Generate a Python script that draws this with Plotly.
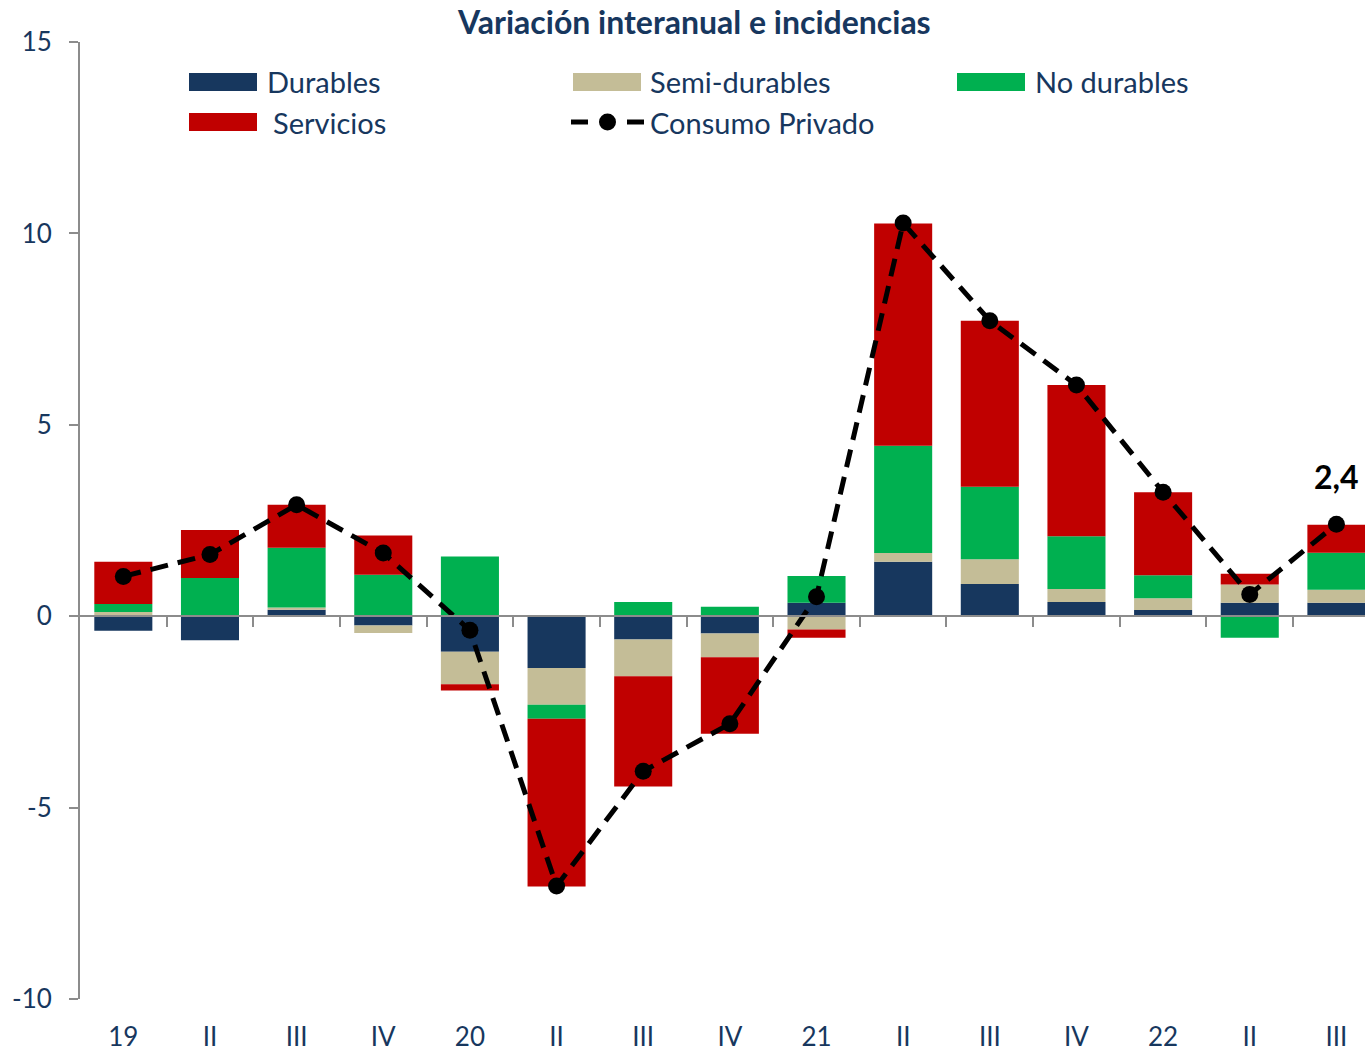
import plotly.graph_objects as go

# ---- data ----
categories = ["19", "II", "III", "IV", "20", "II", "III", "IV", "21", "II", "III", "IV", "22", "II", "III"]
durables = [-0.38, -0.63, 0.17, -0.24, -0.93, -1.35, -0.61, -0.45, 0.35, 1.42, 0.84, 0.37, 0.16, 0.35, 0.35]
semi_durables = [0.11, 0.02, 0.06, -0.20, -0.85, -0.96, -0.96, -0.62, -0.35, 0.23, 0.65, 0.34, 0.31, 0.48, 0.34]
no_durables = [0.21, 0.98, 1.56, 1.08, 1.56, -0.37, 0.37, 0.25, 0.70, 2.80, 1.89, 1.38, 0.60, -0.56, 0.97]
servicios = [1.10, 1.25, 1.12, 1.03, -0.16, -4.38, -2.88, -2.00, -0.21, 5.81, 4.34, 3.95, 2.17, 0.28, 0.73]
consumo_privado = [1.04, 1.61, 2.91, 1.65, -0.37, -7.05, -4.05, -2.81, 0.51, 10.27, 7.72, 6.04, 3.24, 0.57, 2.4]
y_ticks = [-10, -5, 0, 5, 10, 15]
y_tick_text = ["-10", "-5", "0", "5", "10", "15"]
last_label = "2,4"

NAVY = "#17375E"
TAN = "#C4BD97"
GREEN = "#00B050"
RED = "#C00000"
GREY = "#8C8C8C"
FONT = "Lato, 'Open Sans', sans-serif"

xs = list(range(len(categories)))

fig = go.Figure()
for name, vals, col in [("Durables", durables, NAVY),
                        ("Semi-durables", semi_durables, TAN),
                        ("No durables", no_durables, GREEN),
                        ("Servicios", servicios, RED)]:
    fig.add_trace(go.Bar(x=xs, y=vals, name=name, marker_color=col,
                         marker_line_width=0, width=0.67, showlegend=False))

fig.add_trace(go.Scatter(x=xs, y=consumo_privado, mode="lines+markers", name="Consumo Privado",
                         line=dict(color="black", width=5, dash="18px,10px"),
                         marker=dict(size=17, color="black"), showlegend=False))

# invisible trace to carry the zero-line axis with boundary ticks
fig.add_trace(go.Scatter(x=xs, y=[None] * len(xs), xaxis="x2", showlegend=False,
                         hoverinfo="skip", mode="lines"))

# annotation for last value
fig.add_annotation(x=xs[-1], y=consumo_privado[-1], text="<b>" + last_label + "</b>",
                   showarrow=False, yanchor="bottom", yshift=26,
                   font=dict(family=FONT, size=32, color="black"))

# ---- layout helpers (pixel -> paper) ----
L, R, T, B = 80, 2, 42, 56
W, H = 1367, 1055
PW, PH = W - L - R, H - T - B


def px(x):
    return (x - L) / PW


def py(y):
    return (H - B - y) / PH


# manual legend
legend_items = [
    ("Durables", NAVY, 189, 82, 265),
    ("Semi-durables", TAN, 573, 82, 648),
    ("No durables", GREEN, 957, 82, 1033),
    ("Servicios", RED, 189, 122, 271),
]
shapes = []
for name, col, x0, yc, tx in legend_items:
    shapes.append(dict(type="rect", xref="paper", yref="paper",
                       x0=px(x0), x1=px(x0 + 68), y0=py(yc + 9), y1=py(yc - 9),
                       fillcolor=col, line_width=0))
    fig.add_annotation(xref="paper", yref="paper", x=px(tx), y=py(yc), text=name,
                       showarrow=False, xanchor="left", yanchor="middle",
                       font=dict(family=FONT, size=29, color=NAVY))
# Consumo Privado legend sample
shapes.append(dict(type="line", xref="paper", yref="paper", x0=px(571), x1=px(588),
                   y0=py(122), y1=py(122), line=dict(color="black", width=5)))
shapes.append(dict(type="line", xref="paper", yref="paper", x0=px(627), x1=px(644),
                   y0=py(122), y1=py(122), line=dict(color="black", width=5)))
shapes.append(dict(type="circle", xref="paper", yref="paper", x0=px(599), x1=px(616),
                   y0=py(130.5), y1=py(113.5), fillcolor="black", line_width=0))
fig.add_annotation(xref="paper", yref="paper", x=px(648), y=py(122), text="Consumo Privado",
                   showarrow=False, xanchor="left", yanchor="middle",
                   font=dict(family=FONT, size=29, color=NAVY))

# title
fig.add_annotation(xref="paper", yref="paper", x=px(694), y=py(22),
                   text="<b>Variación interanual e incidencias</b>",
                   showarrow=False, xanchor="center", yanchor="middle",
                   font=dict(family=FONT, size=32, color=NAVY))

xrange = [-0.5, 14.33]
ymin, ymax = y_ticks[0], y_ticks[-1]

fig.update_layout(
    width=W, height=H,
    margin=dict(l=L, r=R, t=T, b=B, autoexpand=False),
    paper_bgcolor="white", plot_bgcolor="white",
    barmode="relative",
    shapes=shapes,
    font=dict(family=FONT, color=NAVY),
    xaxis=dict(range=xrange, tickmode="array", tickvals=xs, ticktext=categories,
               showgrid=False, zeroline=False, showline=False, ticks="",
               tickfont=dict(family=FONT, size=26, color=NAVY),
               ticklabelstandoff=20, automargin=False),
    xaxis2=dict(range=xrange, overlaying="x", anchor="free",
                position=(0 - ymin) / (ymax - ymin), side="bottom",
                tickmode="array", tickvals=[i + 0.5 for i in xs[:-1]],
                showticklabels=False, ticks="outside", ticklen=10, tickwidth=2,
                tickcolor=GREY, showline=True, linecolor=GREY, linewidth=2,
                showgrid=False, zeroline=False, automargin=False),
    yaxis=dict(range=[ymin, ymax], tickmode="array", tickvals=y_ticks,
               ticktext=y_tick_text,
               showgrid=False, zeroline=False, showline=True, linecolor=GREY,
               linewidth=2, ticks="outside", ticklen=9, tickwidth=2, tickcolor=GREY,
               tickfont=dict(family=FONT, size=26, color=NAVY),
               ticklabelstandoff=12, automargin=False),
)

fig.write_html("out.html", config={"displayModeBar": False},
               post_script="document.body.style.margin='0';document.body.style.overflow='hidden';")
